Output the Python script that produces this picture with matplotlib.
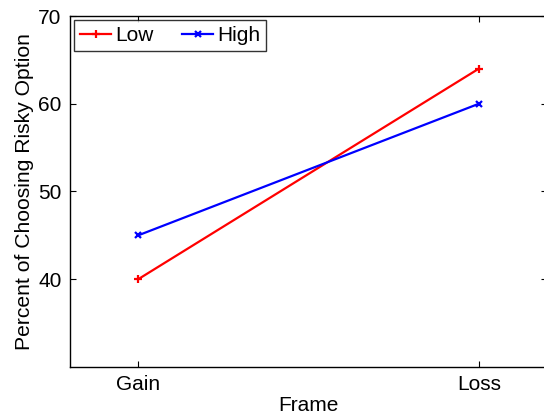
import matplotlib
matplotlib.use('Agg')
import matplotlib.pyplot as plt

frames = ['Gain', 'Loss']
low = [40, 64]
high = [45, 60]

plt.rcParams['font.family'] = ['Liberation Sans', 'DejaVu Sans']

fig = plt.figure(figsize=(5.44, 4.15), dpi=100)
ax = fig.add_axes([70/544, (415-367)/415, (547-70)/544, (367-16)/415])

x = [1, 2]
ax.plot(x, low, color='red', lw=1.6, marker='+', ms=6, mew=1.6, label='Low')
ax.plot(x, high, color='blue', lw=1.6, marker='x', ms=4, mew=1.6, label='High')

ax.set_xlim(0.8, 2.2)
ax.set_ylim(30, 70)
ax.set_xticks(x)
ax.set_xticklabels(frames)
ax.set_yticks([40, 50, 60, 70])
ax.tick_params(direction='in', length=4, width=0.8, top=True, right=True,
               labelsize=15, pad=6)
for s in ax.spines.values():
    s.set_linewidth(1.0)

ax.set_xlabel('Frame', fontsize=15, labelpad=1)
ax.set_ylabel('Percent of Choosing Risky Option', fontsize=15.2, labelpad=3)

leg = ax.legend(loc='upper left', ncol=2, fontsize=15, frameon=True, fancybox=False,
                edgecolor='black', borderpad=0.28, handlelength=1.5, handletextpad=0.2,
                columnspacing=1.35, borderaxespad=0.2)
leg.get_frame().set_linewidth(1.0)

fig.savefig('out.png', dpi=100)
